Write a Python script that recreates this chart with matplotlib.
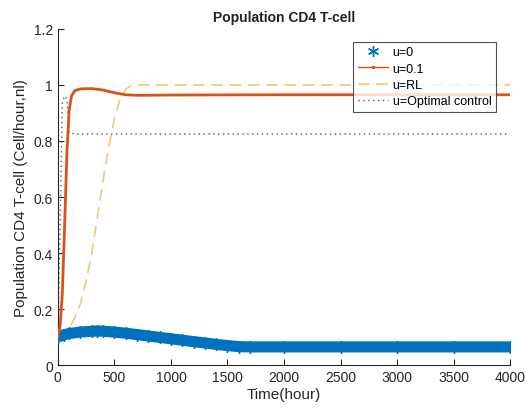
import numpy as np
import matplotlib.pyplot as plt
from matplotlib.lines import Line2D

plt.rcParams['font.family'] = ['Liberation Sans', 'DejaVu Sans']

# u=0 (blue asterisks)
t_u0 = [0, 50, 100, 200, 300, 350, 400, 500, 600, 700, 800, 900, 1000, 1100, 1200,
        1300, 1400, 1500, 1600, 1700, 2000, 2500, 3000, 3500, 4000]
y_u0 = [0.10, 0.108, 0.113, 0.118, 0.121, 0.122, 0.121, 0.118, 0.114, 0.109, 0.104,
        0.099, 0.094, 0.089, 0.084, 0.079, 0.074, 0.070, 0.066, 0.065, 0.065, 0.065,
        0.065, 0.065, 0.065]

# u=0.1 (orange)
t_u1 = [0, 20, 40, 60, 80, 100, 120, 150, 200, 300, 400, 500, 600, 700, 1000, 2000, 3000, 4000]
y_u1 = [0.10, 0.14, 0.26, 0.50, 0.76, 0.91, 0.96, 0.980, 0.986, 0.987, 0.982, 0.972,
        0.965, 0.963, 0.964, 0.965, 0.965, 0.965]

# u=RL (yellow dashed)
t_rl = [0, 50, 100, 150, 200, 250, 300, 350, 400, 450, 500, 550, 600, 650, 700, 4000]
y_rl = [0.10, 0.11, 0.13, 0.17, 0.22, 0.30, 0.40, 0.53, 0.66, 0.78, 0.88, 0.95, 0.985,
        0.998, 1.0, 1.0]

# u=Optimal control (dotted)
t_oc = [0, 20, 40, 60, 80, 100, 150, 4000]
y_oc = [0.10, 0.50, 0.94, 0.96, 0.95, 0.83, 0.825, 0.825]

fig = plt.figure(figsize=(5.26, 4.10), dpi=100)
ax = fig.add_axes([0.110, 0.107, 0.860, 0.820])

blue = '#0072bd'
orange = '#d95319'
yellow = '#edc97a'
dots = '#4b5878'
asterisk = (6, 2, 0)

ax.plot(t_u0, y_u0, color=blue, linewidth=8, solid_capstyle='butt', zorder=3)
ax.plot(t_u0, y_u0, linestyle='none', marker=asterisk, markersize=9, color=blue, zorder=3)
ax.plot(t_u1, y_u1, color=orange, linewidth=2, zorder=4)
ax.plot(t_rl, y_rl, color=yellow, linewidth=1.2, linestyle=(0, (7, 4)), zorder=2)
ax.plot(t_oc, y_oc, color=dots, linewidth=1, linestyle=(0, (1, 2.5)), zorder=2)

ax.set_xlim(0, 4000)
ax.set_ylim(0, 1.2)
ax.set_xticks(np.arange(0, 4001, 500))
ax.set_yticks([0, 0.2, 0.4, 0.6, 0.8, 1.0, 1.2])
ax.set_yticklabels(['0', '0.2', '0.4', '0.6', '0.8', '1', '1.2'])
for s in ['top', 'right']:
    ax.spines[s].set_visible(False)
for s in ['left', 'bottom']:
    ax.spines[s].set_color('#262626')
    ax.spines[s].set_linewidth(0.8)
ax.tick_params(direction='in', length=4, colors='#262626', labelsize=10)

ax.set_title('Population CD4 T-cell', fontsize=10, fontweight='bold', color='#222222')
ax.set_xlabel('Time(hour)', fontsize=11, color='#262626', labelpad=2)
ax.set_ylabel('Population CD4 T-cell (Cell/hour,nl)', fontsize=11, color='#262626', labelpad=4)

handles = [
    Line2D([], [], linestyle='none', marker=asterisk, markersize=8, color=blue),
    Line2D([], [], color=orange, linewidth=1, marker='.', markersize=3),
    Line2D([], [], color=yellow, linewidth=1.2, linestyle=(0, (7, 4))),
    Line2D([], [], color=dots, linewidth=1, linestyle=(0, (1, 2.5))),
]
leg = ax.legend(handles, ['u=0', 'u=0.1', 'u=RL', 'u=Optimal control'],
                loc='upper right', bbox_to_anchor=(0.982, 0.98), fontsize=9,
                frameon=True, fancybox=False, edgecolor='#262626',
                handlelength=2.4, borderpad=0.35, labelspacing=0.35, handletextpad=0.4)
leg.get_frame().set_linewidth(0.8)

fig.savefig('out.png', dpi=100)
